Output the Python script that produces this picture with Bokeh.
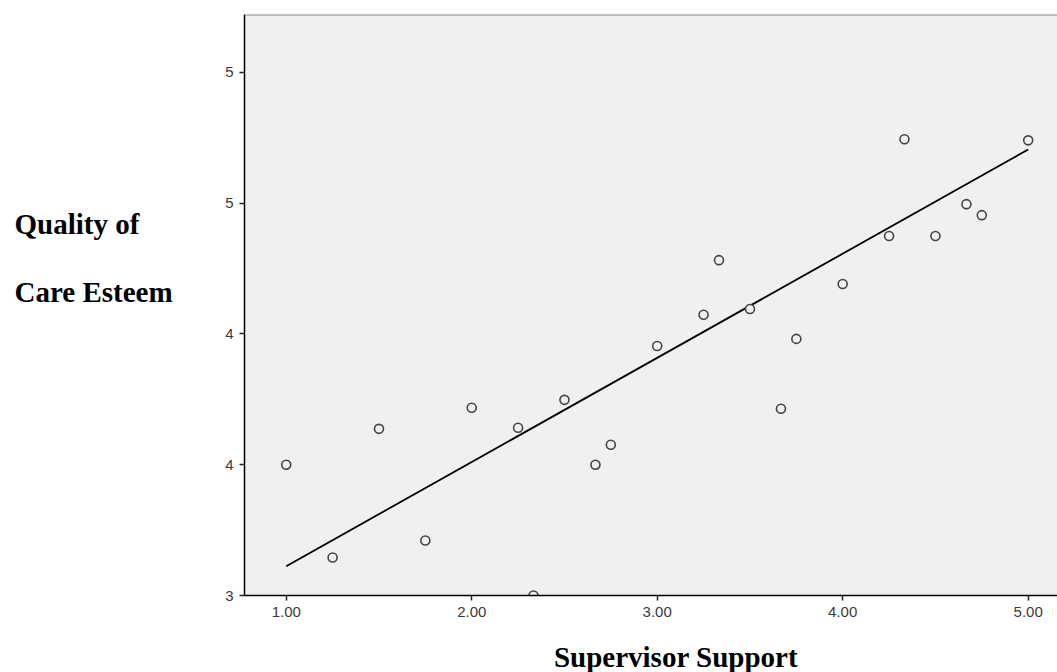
from bokeh.plotting import figure
from bokeh.layouts import row, column
from bokeh.models import Range1d, FixedTicker, Label, Span, ColumnDataSource
from bokeh.embed import file_html
from bokeh.resources import INLINE

# Data
supervisor_support = [1.00, 1.25, 1.50, 1.75, 2.00, 2.25, 2.333, 2.50, 2.667, 2.75,
                      3.00, 3.25, 3.333, 3.50, 3.667, 3.75, 4.00, 4.25, 4.333, 4.50,
                      4.667, 4.75, 5.00]
care_esteem = [3.50, 3.145, 3.637, 3.21, 3.718, 3.641, 3.00, 3.748, 3.50, 3.576,
               3.954, 4.073, 4.282, 4.095, 3.714, 3.981, 4.191, 4.374, 4.744, 4.374,
               4.496, 4.454, 4.740]
fit_x = [1.0, 5.0]
fit_y = [3.112, 4.705]
x_ticks = [1.0, 2.0, 3.0, 4.0, 5.0]
x_tick_labels = ["1.00", "2.00", "3.00", "4.00", "5.00"]
y_ticks = [3.0, 3.5, 4.0, 4.5, 5.0]
y_tick_labels = ["3", "4", "4", "5", "5"]
y_title_lines = ["Quality of", "Care Esteem"]
x_title = "Supervisor Support"

W = 1057
MAIN_H = 630
BOTTOM_H = 672 - MAIN_H
LEFT_W = 190
Y0, Y1 = 3.0, 5.221

label_style = dict(text_font="Liberation Serif", text_font_style="bold",
                   text_font_size="29px", text_color="black",
                   text_baseline="alphabetic")

# Left panel holding the horizontal y-axis title (same vertical scale as the plot)
left = figure(width=LEFT_W, height=MAIN_H, output_backend="svg", toolbar_location=None,
              x_range=Range1d(0, LEFT_W), y_range=Range1d(Y0, Y1),
              min_border_left=0, min_border_right=0, min_border_top=14,
              min_border_bottom=35, x_axis_type=None, y_axis_type=None)
left.outline_line_color = None
left.background_fill_color = "white"
left.grid.visible = False
left.add_layout(Label(x=14, y=4.421, text=y_title_lines[0], text_align="left", **label_style))
left.add_layout(Label(x=14, y=4.160, text=y_title_lines[1], text_align="left", **label_style))

p = figure(width=W - LEFT_W, height=MAIN_H, output_backend="svg", toolbar_location=None,
           x_range=Range1d(0.775, 5.158), y_range=Range1d(Y0, Y1),
           min_border_left=244 - LEFT_W, min_border_right=0, min_border_top=14,
           min_border_bottom=35)
p.background_fill_color = "#f0f0f0"
p.border_fill_color = "white"
p.outline_line_color = None
p.grid.visible = False

for ax in (p.xaxis[0], p.yaxis[0]):
    ax.axis_line_color = "black"
    ax.axis_line_width = 1.5
    ax.major_tick_line_color = "#222222"
    ax.major_tick_line_width = 1.5
    ax.major_tick_out = 5
    ax.major_tick_in = 0
    ax.minor_tick_line_color = None
    ax.major_label_text_font = "Liberation Sans"
    ax.major_label_text_font_size = "15px"
    ax.major_label_text_color = "#3a3a3a"

p.xaxis.ticker = FixedTicker(ticks=x_ticks)
p.xaxis.major_label_overrides = dict(zip(x_ticks, x_tick_labels))
p.xaxis.major_label_standoff = 6
p.yaxis.ticker = FixedTicker(ticks=y_ticks)
p.yaxis.major_label_overrides = dict(zip(y_ticks, y_tick_labels))
p.yaxis.major_label_standoff = 6

p.add_layout(Span(location=Y1, dimension="width", line_color="#8a8a8a", line_width=2))

src = ColumnDataSource(dict(x=supervisor_support, y=care_esteem))
p.line(fit_x, fit_y, line_color="black", line_width=1.8)
p.scatter("x", "y", source=src, marker="circle", size=9, fill_color="#f0f0f0",
          line_color="#444444", line_width=1.6)

# Bottom strip holding the x-axis title
bottom = figure(width=W, height=BOTTOM_H, output_backend="svg", toolbar_location=None,
                x_range=Range1d(0, W), y_range=Range1d(0, BOTTOM_H),
                min_border=0, x_axis_type=None, y_axis_type=None)
bottom.outline_line_color = None
bottom.background_fill_color = "white"
bottom.grid.visible = False
bottom.add_layout(Label(x=675.5, y=16, text=x_title, text_align="center", **label_style))

layout = column(row(left, p, spacing=0), bottom, spacing=0)
open("out.html", "w").write(file_html(layout, INLINE))
